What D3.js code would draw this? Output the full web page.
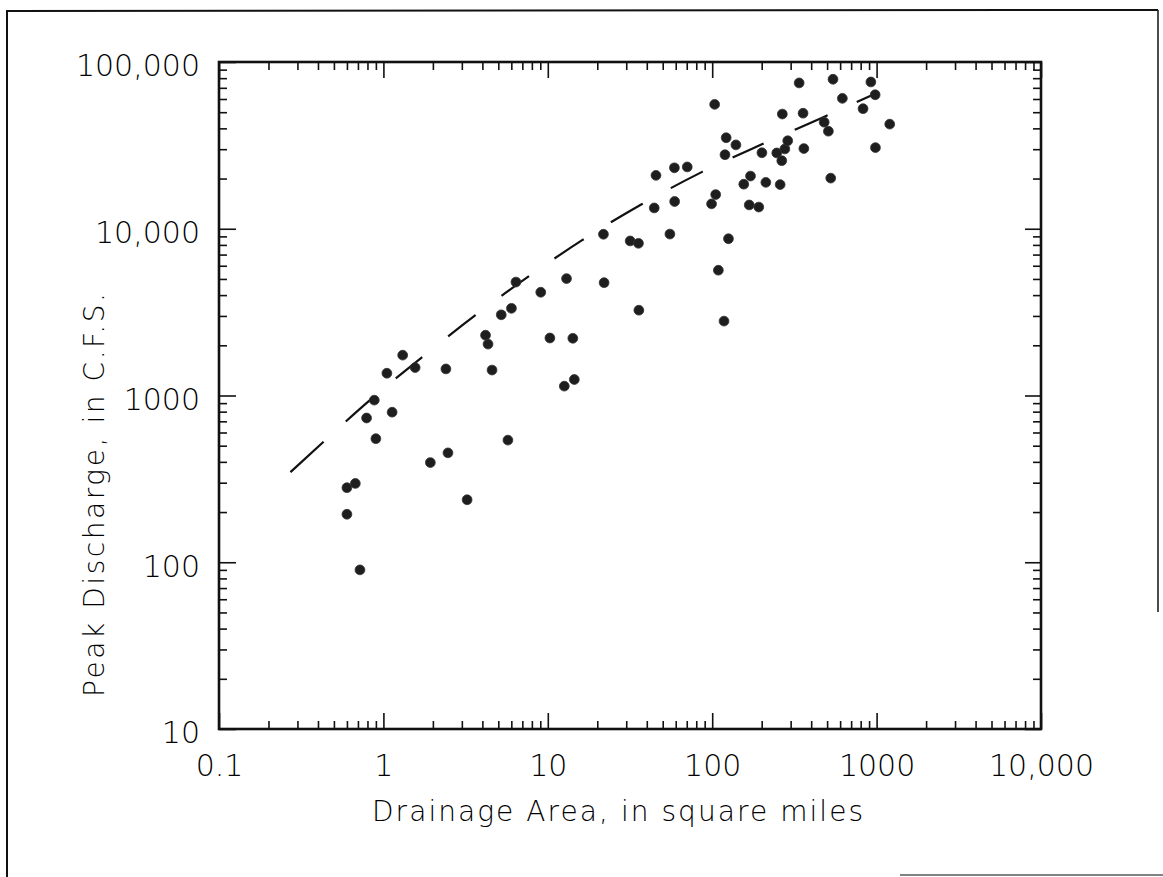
<!DOCTYPE html>
<html>
<head>
<meta charset="utf-8">
<script src="https://cdn.jsdelivr.net/npm/d3@7"></script>
<style>
  html, body { margin: 0; padding: 0; background: #fff; }
  svg { display: block; }
  text { font-family: "DejaVu Sans", "Liberation Sans", sans-serif; font-weight: 300; fill: #000; }
</style>
</head>
<body>
<svg id="chart" width="1163" height="877"></svg>
<script>
// ---- data ----
const areas = [0.60, 0.675, 0.60, 0.72, 0.79, 0.88, 0.90, 1.05, 1.13, 1.31,
  1.56, 1.93, 2.40, 2.47, 3.23, 4.18, 4.33, 4.58, 5.21, 5.72,
  6.01, 6.40, 9.06, 10.3, 12.6, 13.0, 14.2, 14.5, 21.8, 22.0,
  31.7, 35.6, 35.8, 44.4, 45.5, 55.3, 58.9, 59.1, 70.5, 99.1,
  103.5, 105, 109, 118, 119.6, 121.6, 125.6, 139.4, 155.6, 168,
  171, 192, 200.6, 212, 247, 259, 265, 267, 276.6, 288,
  338, 357, 361, 480, 509, 526, 543, 619, 827, 923,
  980, 984, 1202];
const discharges = [280, 297, 194, 90, 733, 938, 551, 1360, 794, 1746,
  1470, 396, 1443, 453, 237, 2300, 2033, 1421, 3048, 540,
  3333, 4790, 4160, 2212, 1138, 5024, 2203, 1247, 9268, 4750,
  8450, 8180, 3247, 13330, 20900, 9290, 23200, 14570, 23480, 14100,
  55700, 16030, 5640, 2793, 27790, 35130, 8710, 31840, 18500, 13890,
  20700, 13490, 28560, 18970, 28480, 18400, 25600, 48750, 30100, 33700,
  74900, 49300, 30270, 43550, 38460, 20120, 78800, 60540, 52500, 75900,
  63600, 30650, 42400];

// dashed envelope curve
const curveAreas = [0.272, 0.434, 0.828, 1.726, 3.63, 7.53, 16.1, 37.0, 86.3, 199, 474, 980];
const curveDischarges = [347, 530, 938, 1703, 3030, 5125, 8510, 13980, 21860, 32000, 46700, 64500];

const xTickValues = [0.1, 1, 10, 100, 1000, 10000];
const xTickLabels = ["0.1", "1", "10", "100", "1000", "10,000"];
const yTickValues = [10, 100, 1000, 10000, 100000];
const yTickLabels = ["10", "100", "1000", "10,000", "100,000"];

const xTitle = "Drainage Area, in square miles";
const yTitle = "Peak Discharge, in C.F.S.";

// ---- layout ----
const L = 219, R = 1041, T = 62, B = 729;
const svg = d3.select("#chart");
const ink = "#111";

const x = d3.scaleLog().domain([0.1, 10000]).range([L, R]);
const y = d3.scaleLog().domain([10, 100000]).range([B, T]);

const xMinor = [];
for (let i = 0; i < xTickValues.length - 1; i++) for (let k = 2; k <= 9; k++) xMinor.push(xTickValues[i] * k);
const yMinor = [];
for (let i = 0; i < yTickValues.length - 1; i++) for (let k = 2; k <= 9; k++) yMinor.push(yTickValues[i] * k);

// outer frame (partial, as in the scan)
const frame = svg.append("g").attr("stroke", ink).attr("fill", "none");
frame.append("line").attr("x1", 7).attr("y1", 10).attr("x2", 7).attr("y2", 877).attr("stroke-width", 2);
frame.append("line").attr("x1", 6).attr("y1", 11).attr("x2", 1158).attr("y2", 10).attr("stroke-width", 2);
frame.append("line").attr("x1", 1158).attr("y1", 10).attr("x2", 1158).attr("y2", 612).attr("stroke-width", 1.5);
frame.append("line").attr("x1", 900).attr("y1", 875).attr("x2", 1163).attr("y2", 875).attr("stroke-width", 1.5).attr("stroke-opacity", 0.7);

function styleAxis(g) {
  g.select(".domain").remove();
  g.selectAll(".tick line").attr("stroke", ink).attr("stroke-width", 1.6);
}
function styleLabels(g) {
  g.selectAll("text").attr("font-size", 30).attr("fill", "#000")
    .style("font-family", '"DejaVu Sans", sans-serif').style("font-weight", 300);
}

// major + minor ticks, all pointing inward
svg.append("g").attr("transform", `translate(0,${B})`)
  .call(d3.axisBottom(x).tickValues(xTickValues).tickSize(-16).tickPadding(26)
    .tickFormat((d, i) => xTickLabels[i]))
  .call(styleAxis)
  .call(styleLabels);
svg.append("g").attr("transform", `translate(0,${B})`)
  .call(d3.axisBottom(x).tickValues(xMinor).tickSize(-8).tickFormat(""))
  .call(styleAxis);

svg.append("g").attr("transform", `translate(0,${T})`)
  .call(d3.axisTop(x).tickValues(xTickValues).tickSize(-16).tickFormat(""))
  .call(styleAxis);
svg.append("g").attr("transform", `translate(0,${T})`)
  .call(d3.axisTop(x).tickValues(xMinor).tickSize(-8).tickFormat(""))
  .call(styleAxis);

svg.append("g").attr("transform", `translate(${L},0)`)
  .call(d3.axisLeft(y).tickValues(yTickValues).tickSize(-17).tickPadding(19)
    .tickFormat((d, i) => yTickLabels[i]))
  .call(styleAxis)
  .call(styleLabels)
  .call(g => g.selectAll("text").attr("dy", "0.46em"));
svg.append("g").attr("transform", `translate(${L},0)`)
  .call(d3.axisLeft(y).tickValues(yMinor).tickSize(-8).tickFormat(""))
  .call(styleAxis);

svg.append("g").attr("transform", `translate(${R},0)`)
  .call(d3.axisRight(y).tickValues(yTickValues).tickSize(-16).tickFormat(""))
  .call(styleAxis);
svg.append("g").attr("transform", `translate(${R},0)`)
  .call(d3.axisRight(y).tickValues(yMinor).tickSize(-8).tickFormat(""))
  .call(styleAxis);

// plot frame
svg.append("rect").attr("x", L).attr("y", T).attr("width", R - L).attr("height", B - T)
  .attr("fill", "none").attr("stroke", ink).attr("stroke-width", 2.6);

// dashed curve
const curvePts = curveAreas.map((a, i) => [a, curveDischarges[i]]);
svg.append("path")
  .attr("d", d3.line().x(d => x(d[0])).y(d => y(d[1])).curve(d3.curveMonotoneX)(curvePts))
  .attr("fill", "none").attr("stroke", ink).attr("stroke-width", 2.2)
  .attr("stroke-dasharray", "45 30 33 33 34 33 35 32 34 31 35 32 37 32 36 33 34 34 36 32 30 0");

// points
svg.append("g").selectAll("circle")
  .data(areas.map((a, i) => [a, discharges[i]]))
  .join("circle")
  .attr("cx", d => x(d[0])).attr("cy", d => y(d[1])).attr("r", 4.9)
  .attr("fill", "#1e1e1e").attr("stroke", "#333").attr("stroke-width", 0.8);

// axis titles
svg.append("text").attr("x", 372).attr("y", 821).attr("font-size", 28)
  .attr("textLength", 491).attr("lengthAdjust", "spacing").text(xTitle);
svg.append("text").attr("transform", "translate(104,697) rotate(-90)").attr("font-size", 28)
  .attr("textLength", 404).attr("lengthAdjust", "spacing").text(yTitle);
</script>
</body>
</html>
